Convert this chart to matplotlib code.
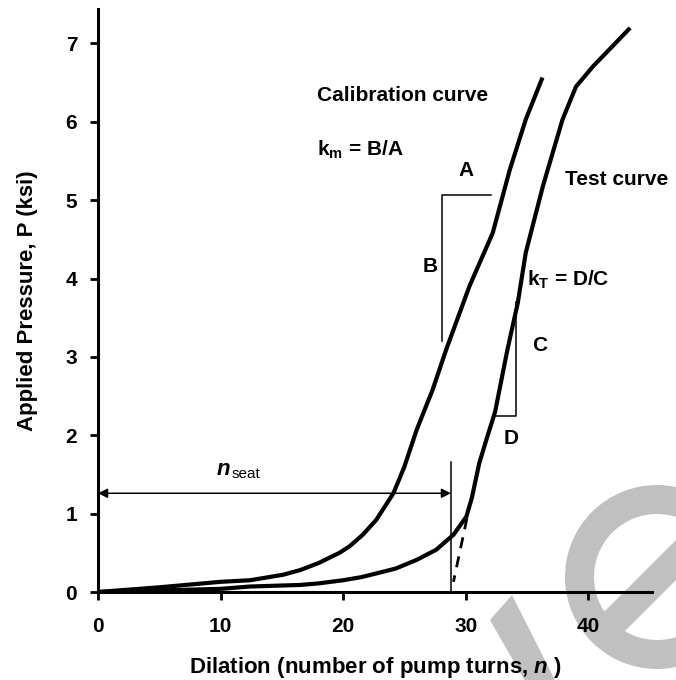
import matplotlib
matplotlib.use('Agg')
import matplotlib.pyplot as plt
from matplotlib.patches import Wedge, Polygon

plt.rcParams['font.family'] = ['Liberation Sans', 'DejaVu Sans']
plt.rcParams['font.weight'] = 'bold'
plt.rcParams['mathtext.fontset'] = 'custom'
plt.rcParams['mathtext.rm'] = 'Liberation Sans:bold'
plt.rcParams['mathtext.bf'] = 'Liberation Sans:bold'
plt.rcParams['mathtext.it'] = 'Liberation Sans:bold:italic'

# calibration curve (pump turns, ksi)
cal_n = [0, 5, 10, 12.4, 15.1, 16.5, 18, 19.7, 20.5, 21.6, 22.7, 24.1,
         25.0, 26.0, 27.3, 28.4, 30.3, 32.2, 33.6, 34.9, 36.2]
cal_p = [0, 0.06, 0.13, 0.15, 0.22, 0.28, 0.37, 0.5, 0.58, 0.73, 0.92, 1.26,
         1.6, 2.07, 2.58, 3.09, 3.9, 4.58, 5.39, 6.03, 6.54]

# test curve
test_n = [0, 5, 10, 12.4, 16.5, 18, 20, 21.5, 23.3, 24.3, 26.0, 27.6, 29.0,
          30.05, 30.5, 31.1, 31.7, 32.4, 33.4, 34.25, 34.9, 36.3, 37.9, 39.0,
          40.4, 41.7, 43.3]
test_p = [0, 0.02, 0.04, 0.07, 0.09, 0.11, 0.15, 0.19, 0.26, 0.30, 0.41, 0.54,
          0.73, 0.96, 1.2, 1.64, 1.95, 2.3, 3.09, 3.69, 4.33, 5.18, 6.03, 6.45,
          6.71, 6.92, 7.18]

# tangent extrapolation to the n axis
tan_n = [30.1, 29.0]
tan_p = [0.94, 0.13]

n_seat = 28.8
x_ticks = [0, 10, 20, 30, 40]
y_ticks = [0, 1, 2, 3, 4, 5, 6, 7]

fig = plt.figure(figsize=(6.76, 6.8), dpi=100)

# watermark drawn behind everything, in pixel coordinates
bg = fig.add_axes([0, 0, 1, 1], zorder=-1)
bg.set_xlim(0, 676)
bg.set_ylim(680, 0)
bg.axis('off')
wm = '#c0c0c0'
bg.add_patch(Wedge((657, 577), 92, 0, 360, width=29, color=wm, lw=0))
bg.add_patch(Polygon([(600, 616), (700, 516), (720, 536), (620, 636)], color=wm, lw=0))
bg.add_patch(Polygon([(490, 620), (512, 595), (560, 690), (530, 690)], color=wm, lw=0))

ax = fig.add_axes([98/676, 1-592/680, (652-98)/676, (592-9)/680])
ax.patch.set_alpha(0)

ax.plot(cal_n, cal_p, color='black', lw=3, solid_joinstyle='round')
ax.plot(test_n, test_p, color='black', lw=3, solid_joinstyle='round')
ax.plot(tan_n, tan_p, color='black', lw=2, dashes=(4, 3))

# n_seat marker and arrow
ax.plot([n_seat, n_seat], [0, 1.66], color='black', lw=1.1)
ax.annotate('', xy=(0, 1.26), xytext=(n_seat, 1.26),
            arrowprops=dict(arrowstyle='<|-|>', color='black', lw=1.1,
                            mutation_scale=14, shrinkA=0, shrinkB=0))
ax.text(9.67, 1.49, 'n', fontsize=16, style='italic', va='baseline')
ax.text(10.9, 1.46, 'seat', fontsize=11, fontweight='normal', va='baseline')

# slope triangles
ax.plot([32.1, 28.1, 28.1], [5.07, 5.07, 3.2], color='black', lw=1.1)
ax.plot([32.4, 34.1, 34.1], [2.25, 2.25, 3.7], color='black', lw=1.1)

fs = 15
ax.text(17.9, 6.33, 'Calibration curve', fontsize=fs, va='center')
ax.text(17.9, 5.64, r'k$_\mathrm{m}$ = B/A', fontsize=fs, va='center')
ax.text(38.1, 5.26, 'Test curve', fontsize=fs, va='center')
ax.text(35.0, 3.98, r'k$_\mathrm{T}$ = D/C', fontsize=fs, va='center')
ax.text(30.0, 5.38, 'A', fontsize=fs, ha='center', va='center')
ax.text(27.1, 4.15, 'B', fontsize=fs, ha='center', va='center')
ax.text(36.0, 3.15, 'C', fontsize=fs, ha='center', va='center')
ax.text(33.7, 1.96, 'D', fontsize=fs, ha='center', va='center')

ax.set_xlim(0, 45.2)
ax.set_ylim(0, 7.44)
ax.set_xticks(x_ticks)
ax.set_yticks(y_ticks)
ax.tick_params(direction='out', length=6, width=2, labelsize=15)
ax.tick_params(axis='x', pad=12)
ax.tick_params(axis='y', pad=9)
for s in ['top', 'right']:
    ax.spines[s].set_visible(False)
for s in ['left', 'bottom']:
    ax.spines[s].set_linewidth(2.2)

ax.set_xlabel('Dilation (number of pump turns, $n$ )', fontsize=16,
              fontweight='bold', labelpad=14)
ax.set_ylabel('Applied Pressure, P (ksi)', fontsize=16, fontweight='bold',
              labelpad=20)

fig.savefig('out.png', dpi=100)
